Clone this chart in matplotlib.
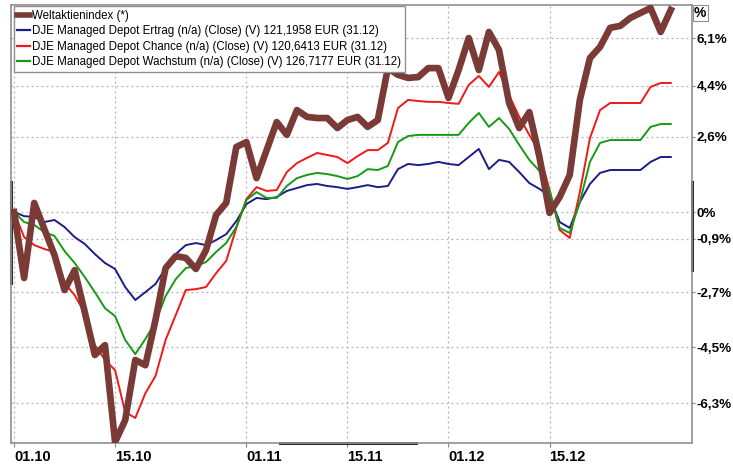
import numpy as np
import pandas as pd
import matplotlib
matplotlib.use('Agg')
import matplotlib.pyplot as plt
from matplotlib.lines import Line2D

plt.rcParams['font.family'] = ['Liberation Sans', 'DejaVu Sans']

# trading days 01.10.2014 - 31.12.2014, performance in %
dates = pd.bdate_range('2014-10-01', '2014-12-31')

welt = [0, -2.22, 0.31, -0.58, -1.45, -2.62, -1.96, -3.35, -4.75, -4.43,
        -7.53, -6.84, -4.91, -5.08, -3.61, -1.89, -1.49, -1.55, -1.92, -1.29,
        -0.10, 0.31, 2.24, 2.41, 1.16, 2.13, 3.11, 2.66, 3.53, 3.29,
        3.25, 3.25, 2.90, 3.18, 3.29, 2.94, 3.18, 5.02, 4.78, 4.67,
        4.70, 5.02, 5.02, 3.96, 4.95, 6.10, 4.95, 6.32, 5.67, 3.78,
        2.90, 3.46, 1.89, -0.03, 0.51, 1.27, 3.89, 5.38, 5.78, 6.47,
        6.54, 6.83, 7.01, 7.19, 6.32, 7.12]

ertrag = [0, -0.14, -0.17, -0.34, -0.27, -0.51, -0.85, -1.08, -1.42, -1.72,
          -1.92, -2.52, -2.95, -2.69, -2.42, -1.89, -1.42, -1.12, -1.05, -1.12,
          -0.95, -0.75, -0.31, 0.27, 0.48, 0.44, 0.51, 0.72, 0.82, 0.92,
          0.96, 0.89, 0.85, 0.79, 0.85, 0.92, 0.85, 0.89, 1.47, 1.65,
          1.61, 1.65, 1.72, 1.65, 1.61, 1.89, 2.17, 1.47, 1.79, 1.72,
          1.37, 0.99, 0.79, 0.55, -0.34, -0.54, 0.34, 0.96, 1.34, 1.44,
          1.44, 1.44, 1.44, 1.72, 1.89, 1.89]

chance = [0, -0.85, -1.12, -1.25, -1.35, -2.39, -2.79, -3.38, -4.43, -4.91,
          -5.24, -6.58, -6.77, -5.98, -5.43, -4.26, -3.45, -2.62, -2.59, -2.52,
          -2.06, -1.65, -0.54, 0.44, 0.85, 0.72, 0.75, 1.37, 1.68, 1.86,
          2.03, 1.96, 1.89, 1.68, 1.92, 2.13, 2.13, 2.38, 3.60, 3.89,
          3.85, 3.82, 3.82, 3.78, 3.75, 4.42, 4.74, 4.35, 4.88, 4.06,
          3.29, 2.66, 2.06, 0.75, -0.61, -0.88, 0.68, 2.55, 3.53, 3.78,
          3.78, 3.78, 3.78, 4.35, 4.49, 4.49]

wachstum = [0, -0.34, -0.44, -0.68, -0.81, -1.32, -1.72, -2.19, -2.69, -3.22,
            -3.48, -4.26, -4.72, -4.23, -3.68, -2.82, -2.26, -1.89, -1.82, -1.69,
            -1.35, -1.05, -0.51, 0.41, 0.68, 0.48, 0.48, 0.89, 1.16, 1.27,
            1.34, 1.30, 1.23, 1.13, 1.23, 1.47, 1.44, 1.58, 2.41, 2.62,
            2.66, 2.66, 2.66, 2.66, 2.66, 3.08, 3.43, 2.94, 3.25, 2.87,
            2.31, 1.79, 1.41, 0.75, -0.54, -0.71, 0.34, 1.72, 2.38, 2.48,
            2.48, 2.48, 2.48, 2.94, 3.04, 3.04]

labels = ['Weltaktienindex (*)',
          'DJE Managed Depot Ertrag (n/a) (Close) (V) 121,1958 EUR (31.12)',
          'DJE Managed Depot Chance (n/a) (Close) (V) 120,6413 EUR (31.12)',
          'DJE Managed Depot Wachstum (n/a) (Close) (V) 126,7177 EUR (31.12)']

xtick_dates = ['2014-10-01', '2014-10-15', '2014-11-01', '2014-11-15',
               '2014-12-01', '2014-12-15']
xtick_labels = ['01.10', '15.10', '01.11', '15.11', '01.12', '15.12']
ytick_values = [6.1, 4.4, 2.6, 0, -0.9, -2.7, -4.5, -6.3]


def fwd(v):
    return np.log1p(np.asarray(v) / 100.0)


def inv(u):
    return 100.0 * np.expm1(np.asarray(u))


fig = plt.figure(figsize=(7.33, 4.65), dpi=100)
ax = fig.add_axes([11 / 733, 1 - 443 / 465, 681 / 733, 438 / 465])
ax.set_yscale('function', functions=(fwd, inv))

x = np.arange(len(dates))
ax.plot(x, ertrag, color='#1c1c8a', lw=1.4, zorder=3)
ax.plot(x, chance, color='#f01818', lw=1.4, zorder=3)
ax.plot(x, wachstum, color='#169a16', lw=1.4, zorder=3)
ax.plot(x, welt, color='#7a3b36', lw=4.8, zorder=4)

ax.set_xlim(-0.3, 67.1)
ax.set_ylim(-7.56, 7.30)

# ticks at first trading day on/after label date
xt = [int(np.searchsorted(dates, pd.Timestamp(d))) for d in xtick_dates]
ax.set_xticks(xt)
ax.set_xticklabels(xtick_labels, fontsize=10.5, fontweight='bold', ha='left')
ax.tick_params(axis='x', length=3, pad=2, color='#888888')

ax.yaxis.tick_right()
ax.set_yticks(ytick_values)
ax.set_yticklabels([('%g' % v).replace('.', ',') + '%' for v in ytick_values],
                   fontsize=9.6, fontweight='bold')
ax.tick_params(axis='y', length=2.5, pad=1, color='#888888')

ax.grid(True, linestyle=(0, (1.5, 2.5)), color='#b0b0b0', lw=0.9)
ax.set_axisbelow(True)
for s in ax.spines.values():
    s.set_color('#909090')
    s.set_linewidth(1.2)

# dark markers on the axes
ax.add_line(Line2D([0.0, 0.0], [0.365, 0.596], transform=ax.transAxes,
                   color='#303030', lw=2.2, clip_on=False))
ax.add_line(Line2D([1.0, 1.0], [0.395, 0.596], transform=ax.transAxes,
                   color='#303030', lw=2.2, clip_on=False))
ax.add_line(Line2D([0.395, 0.595], [0.0, 0.0], transform=ax.transAxes,
                   color='#303030', lw=2.2, clip_on=False))

handles = [Line2D([], [], color='#7a3b36', lw=4.0),
           Line2D([], [], color='#1c1c8a', lw=1.6),
           Line2D([], [], color='#f01818', lw=1.6),
           Line2D([], [], color='#169a16', lw=1.6)]
leg = ax.legend(handles, labels, loc='upper left', fontsize=8.3,
                bbox_to_anchor=(0.004, 0.997), borderaxespad=0,
                handlelength=1.15, handletextpad=0.15, labelspacing=0.3,
                borderpad=0.3, fancybox=False, framealpha=1,
                edgecolor='#909090')
leg.get_frame().set_linewidth(1.0)

fig.text(694 / 733, 1 - 13 / 465, '%', fontsize=10, fontweight='bold',
         va='center', ha='left',
         bbox=dict(boxstyle='square,pad=0.1', fc='white', ec='#909090', lw=0.8))

fig.savefig('out.png', dpi=100)
